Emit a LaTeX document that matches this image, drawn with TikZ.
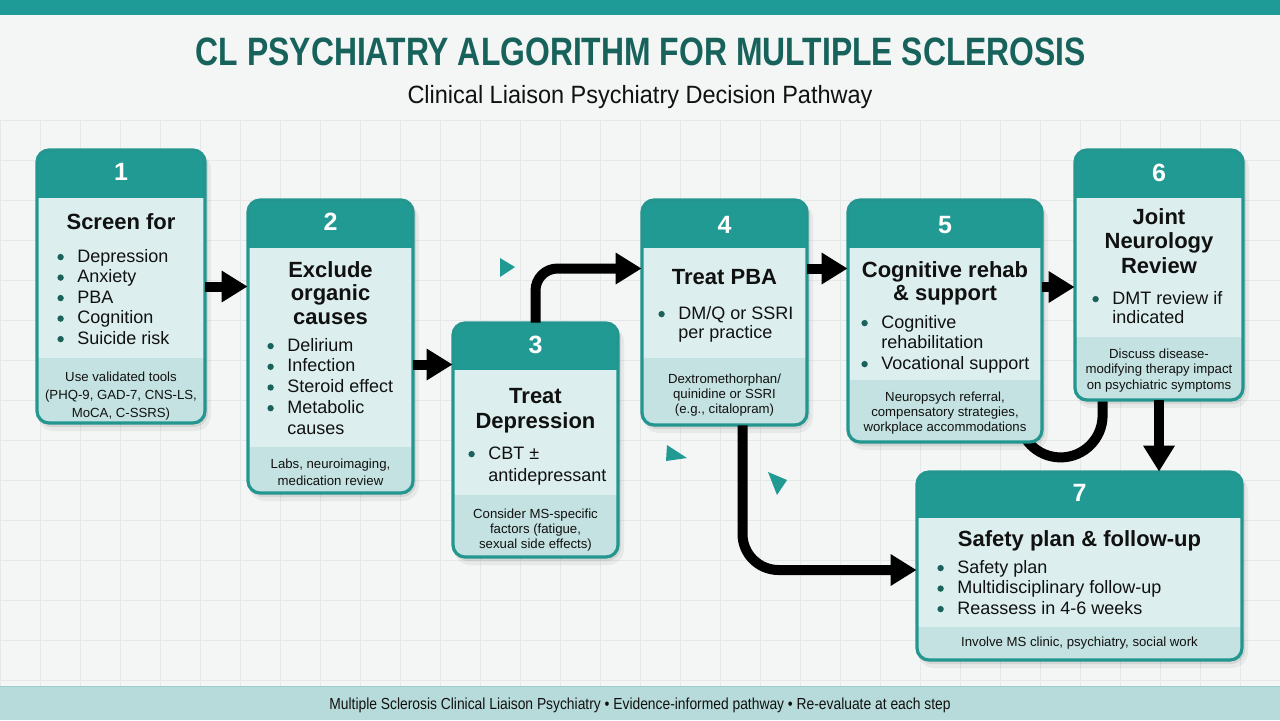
\documentclass[tikz,border=0pt]{standalone}
\usepackage{fontspec}
\usepackage{graphicx}
\setmainfont{Liberation Sans}
\usetikzlibrary{arrows.meta,calc,fit}
\pgfdeclarelayer{back}
\pgfdeclarelayer{mid}
\pgfsetlayers{back,mid,main}
\definecolor{tealbar}{HTML}{1E9B96}
\definecolor{bgc}{HTML}{F4F5F5}
\definecolor{gridc}{HTML}{E4E8E8}
\definecolor{hdr}{HTML}{229A94}
\definecolor{bord}{HTML}{22968F}
\definecolor{bodyc}{HTML}{DCEFEE}
\definecolor{footc}{HTML}{C4E2E1}
\definecolor{titc}{HTML}{17625B}
\definecolor{band}{HTML}{B6DBDA}
\definecolor{dotc}{HTML}{1C625C}
\definecolor{txt}{HTML}{111111}
\newcommand\bul{\makebox[10pt][l]{\tikz[baseline=-2.6pt]\fill[dotc](1.6pt,0)circle(1.6pt);}}
\newcommand\cnt{\hspace*{10pt}}
\newcommand\tl[6]{\foreach \t [count=\i] in {#6}{\node[#1] (#2-\i) at (#3,{#4+(\i-1)*(#5)}) {\t};}}
\newcommand\stepbox[7]{%
  \fill[black,opacity=0.05,rounded corners=8pt] (#2+1,#3+3) rectangle (#4+6,#5+8);
  \fill[black,opacity=0.08,rounded corners=7pt] (#2+1,#3+1) rectangle (#4+3,#5+4);
  \begin{scope}
    \clip[rounded corners=6pt] (#2,#3) rectangle (#4,#5);
    \fill[bodyc] (#2,#3) rectangle (#4,#5);
    \fill[hdr] (#2,#3) rectangle (#4,#6);
    \fill[footc] (#2,#7) rectangle (#4,#5);
  \end{scope}
  \draw[bord,line width=1.6pt,rounded corners=6pt] (#2,#3) rectangle (#4,#5);
  \node[fit={(#2,#3)(#4,#5)},inner sep=0pt] (#1) {};
}
\tikzset{
  num/.style={text=white,font=\bfseries\fontsize{12.5}{14}\selectfont,inner sep=0pt,anchor=mid},
  btitle/.style={text=txt,font=\bfseries\fontsize{11}{13}\selectfont,inner sep=0pt,anchor=mid},
  bitem/.style={text=txt,font=\fontsize{9}{11}\selectfont,inner sep=0pt,anchor=mid west},
  bfoot/.style={text=txt,font=\fontsize{6.6}{8}\selectfont,inner sep=0pt,anchor=mid},
  arr/.style={black,line width=5pt,-{Triangle[length=13pt,width=15pt]}},
  conn/.style={black,line width=5pt},
  deco/.style={fill=hdr}
}
\begin{document}
\begin{tikzpicture}[x=0.5pt,y=-0.5pt]
\useasboundingbox (0,0) rectangle (1280,720);
\begin{pgfonlayer}{back}
  \fill[bgc] (0,0) rectangle (1280,720);
  \foreach \x in {0,40,...,1280} \draw[gridc,line width=0.4pt] (\x,120) -- (\x,686);
  \foreach \y in {120,160,...,680} \draw[gridc,line width=0.4pt] (0,\y) -- (1280,\y);
  \fill[tealbar] (0,0) rectangle (1280,15);
  \fill[band] (0,686) rectangle (1280,720);
  \draw[footc!80!teal,line width=0.5pt] (0,686) -- (1280,686);
\end{pgfonlayer}

\node[text=titc,font=\bfseries\fontsize{19.8}{22}\selectfont,inner sep=0pt,anchor=mid] (title) at (641,60) {\scalebox{0.805}[1]{CL PSYCHIATRY ALGORITHM FOR MULTIPLE SCLEROSIS}};
\node[text=txt,font=\fontsize{12.5}{14}\selectfont,inner sep=0pt,anchor=mid] (subtitle) at (640,98) {\scalebox{0.94}[1]{Clinical Liaison Psychiatry Decision Pathway}};
\node[text=txt,font=\fontsize{8}{10}\selectfont,inner sep=0pt,anchor=mid] (footer) at (640,704) {\scalebox{0.865}[1]{Multiple Sclerosis Clinical Liaison Psychiatry \textbullet\ Evidence-informed pathway \textbullet\ Re-evaluate at each step}};

% boxes
\stepbox{b1}{37}{150}{205}{423}{198}{358}
\stepbox{b2}{248}{200}{413}{493}{248}{447}
\stepbox{b3}{453}{323}{618}{557}{370}{495}
\stepbox{b4}{642}{200}{807}{425}{248}{358}
\stepbox{b5}{848}{200}{1042}{442}{248}{380}
\stepbox{b6}{1075}{150}{1243}{400}{198}{337}
\stepbox{b7}{917}{472}{1242}{660}{518}{627}

% box 1
\node[num] (n1) at (121,175) {1};
\node[btitle] (t1) at (121,224) {Screen for};
\tl{bitem}{i1}{57}{257}{20.5}{\bul Depression,\bul Anxiety,\bul PBA,\bul Cognition,\bul Suicide risk}
\tl{bfoot}{f1}{121}{376}{18}{Use validated tools,{(PHQ-9, GAD-7, CNS-LS,},{MoCA, C-SSRS)}}
% box 2
\node[num] (n2) at (330.5,225) {2};
\tl{btitle}{t2}{330.5}{272}{23.5}{Exclude,organic,causes}
\tl{bitem}{i2}{267}{346}{20.7}{\bul Delirium,\bul Infection,\bul Steroid effect,\bul Metabolic,\cnt causes}
\tl{bfoot}{f2}{330.5}{463}{17}{{Labs, neuroimaging,},medication review}
% box 3
\node[num] (n3) at (535.5,348) {3};
\tl{btitle}{t3}{535.5}{398}{25}{Treat,Depression}
\tl{bitem}{i3}{468}{454}{22}{\bul CBT \textpm,\cnt antidepressant}
\tl{bfoot}{f3}{535.5}{513}{15}{Consider MS-specific,{factors (fatigue,},sexual side effects)}
% box 4
\node[num] (n4) at (724.5,228) {4};
\node[btitle] (t4) at (724.5,279) {Treat PBA};
\tl{bitem}{i4}{658}{314}{19.5}{\bul DM/Q or SSRI,\cnt per practice}
\tl{bfoot}{f4}{724.5}{378}{15}{Dextromethorphan/,quinidine or SSRI,{(e.g., citalopram)}}
% box 5
\node[num] (n5) at (945,228) {5};
\tl{btitle}{t5}{945}{272}{23}{Cognitive rehab,\& support}
\tl{bitem}{i5}{861}{323}{20.5}{\bul Cognitive,\cnt rehabilitation,\bul Vocational support}
\tl{bfoot}{f5}{945}{396}{15}{{Neuropsych referral,},{compensatory strategies,},workplace accommodations}
% box 6
\node[num] (n6) at (1159,176) {6};
\tl{btitle}{t6}{1159}{219}{24.5}{Joint,Neurology,Review}
\tl{bitem}{i6}{1092}{299}{19.5}{\bul DMT review if,\cnt indicated}
\tl{bfoot}{f6}{1159}{353}{15.5}{Discuss disease-,modifying therapy impact,on psychiatric symptoms}
% box 7
\node[num] (n7) at (1079.5,496) {7};
\node[btitle] (t7) at (1079.5,541) {Safety plan \& follow-up};
\tl{bitem}{i7}{937}{568}{20.5}{\bul Safety plan,\bul Multidisciplinary follow-up,\bul Reassess in 4-6 weeks}
\node[bfoot] (f7) at (1079.5,641) {Involve MS clinic, psychiatry, social work};

% connectors
\coordinate (a23) at ([yshift=-9pt]b2.east);
\coordinate (a34) at ([yshift=22pt]b4.west);
\coordinate (a45) at ([yshift=22pt]b4.east);
\coordinate (a56) at ([yshift=-6pt]b6.west);
\coordinate (a47s) at ([xshift=9pt]b4.south);
\coordinate (a47e) at ([yshift=-2pt]b7.west);
\coordinate (u1) at ([xshift=14pt]b6.south west);
\draw[arr] (b1.east) -- (b1.east -| b2.west);
\draw[arr] (a23) -- (a23 -| b3.west);
\draw[arr,rounded corners=11pt] (b3.north) |- (a34);
\draw[arr] (a45) -- (a45 -| b5.west);
\draw[arr] (a56 -| b5.east) -- (a56);
\draw[arr,rounded corners=18pt] (a47s) |- (a47e);
\draw[arr] (b6.south) -- (b6.south |- b7.north);
\begin{pgfonlayer}{mid}
  \draw[conn] (u1) -- ++(0,15) arc[start angle=0,end angle=-180,radius=21pt];
\end{pgfonlayer}

% decorative triangles
\fill[deco] (500,258) -- (515,267) -- (500,277) -- cycle;
\fill[deco] (667,445) -- (687,458) -- (666,461) -- cycle;
\fill[deco] (768,472) -- (787,480) -- (777,495) -- cycle;
\end{tikzpicture}
\end{document}
